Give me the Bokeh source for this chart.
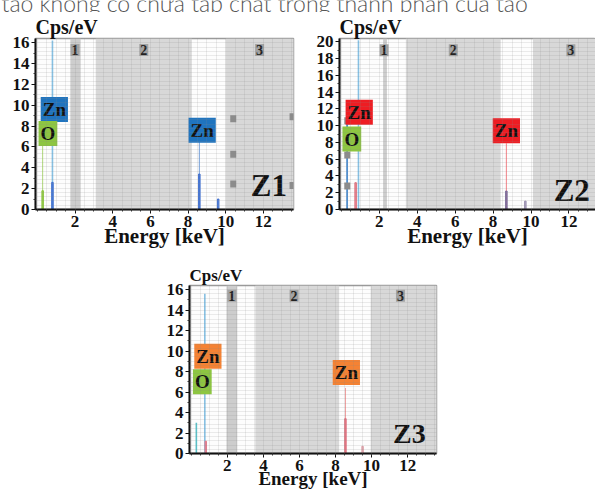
from bokeh.plotting import figure
from bokeh.layouts import column, row
from bokeh.models import Spacer, FixedTicker, Range1d, SingleIntervalTicker
from bokeh.core.properties import value
from bokeh.embed import file_html
from bokeh.resources import INLINE

# ---------------- data ----------------
caption = "tạo không có chứa tạp chất trong thành phần của tạo"

x_ticks = [2, 4, 6, 8, 10, 12]
z1_y_ticks = [0, 2, 4, 6, 8, 10, 12, 14, 16]
z2_y_ticks = [0, 2, 4, 6, 8, 10, 12, 14, 16, 18, 20]
z3_y_ticks = [0, 2, 4, 6, 8, 10, 12, 14, 16]

band_names = ["1", "2", "3"]
z1_band_start = [1.75, 3.1, 10.0]
z1_band_end = [2.3, 8.2, 14.0]
z1_band_label_x = [2.0, 5.65, 11.8]
z2_band_start = [2.2, 3.4, 10.1]
z2_band_end = [2.4, 8.4, 14.0]
z2_band_label_x = [2.25, 5.9, 12.1]
z3_band_start = [1.95, 3.55, 9.95]
z3_band_end = [2.55, 8.2, 14.0]
z3_band_label_x = [2.25, 5.7, 11.6]

# full spectrum (tall light lines): energy [keV], Cps/eV
z1_spec_x = [0.8]
z1_spec_top = [16.2]
z2_spec_x = [0.3, 0.9]
z2_spec_top = [11.2, 20.2]
z3_spec_x = [0.28, 0.75]
z3_spec_top = [3.0, 15.6]

# element marker lines up to the label boxes
z1_mark_x = [0.28, 8.6]
z1_mark_top = [6.2, 6.6]
z2_mark_x = [8.7]
z2_mark_top = [7.9]
z3_mark_x = [8.55]
z3_mark_top = [6.4]

# fitted element peaks
z1_peak_x = [0.28, 0.8, 8.6, 9.6]
z1_peak_h = [1.8, 2.6, 3.4, 1.0]
z2_peak_x = [0.75, 8.7, 9.7]
z2_peak_h = [3.2, 2.2, 1.0]
z3_peak_x = [0.8, 8.55, 9.5]
z3_peak_h = [1.2, 3.4, 0.7]

# element labels
elem_text = ["Zn", "O", "Zn"]
z1_elem_x = [0.9, 0.56, 8.75]
z1_elem_y = [9.6, 7.3, 7.6]
z2_elem_x = [0.94, 0.55, 8.7]
z2_elem_y = [11.6, 8.4, 9.4]
z3_elem_x = [0.92, 0.61, 8.6]
z3_elem_y = [9.5, 7.0, 7.9]

# sample names
sample_names = ["Z1", "Z2", "Z3"]
z1_name_xy = (13.25, 2.3)
z2_name_xy = (13.1, 2.25)
z3_name_xy = (13.0, 2.0)

# grey selection handles seen in the scan
z1_handle_x = [10.4, 10.4, 10.4, 13.55, 13.55]
z1_handle_y = [8.7, 5.3, 2.45, 8.9, 2.3]
z2_handle_x = [0.31, 0.31, 0.31]
z2_handle_y = [10.6, 6.5, 2.8]

# ---------------- styling ----------------
SERIF = "Liberation Serif"
LIGHT_BLUE = "#86c0e3"
O_GREEN = "#8dc641"
BAND = "#d8d8d8"
BAND1 = "#cdcdcd"
TAG = "#a3a3a3"


def panel(w, h, mb, x_end, y_end, y_ticks, title_size, xlab_size,
          band_start, band_end, band_lab_x, band_lab_y,
          spec_x, spec_top, spec_colors, mark_x, mark_top, mark_colors,
          peak_x, peak_h, peak_colors, elem_x, elem_y, elem_colors,
          name, name_xy, name_size, handles=None):
    p = figure(width=w, height=h, x_range=Range1d(-0.1, x_end),
               y_range=Range1d(0, y_end), output_backend="svg",
               toolbar_location=None, background_fill_color="#fdfdfd",
               border_fill_color="white")
    p.min_border_left, p.min_border_right, p.min_border_top, p.min_border_bottom = mb
    p.outline_line_color = "#9a9a9a"
    p.outline_line_width = 1.5

    p.title.text = "Cps/eV"
    p.title.text_font = SERIF
    p.title.text_font_style = "bold"
    p.title.text_font_size = title_size
    p.title.align = "left"
    p.title.standoff = 2
    p.title.text_color = "#111111"

    # bands
    p.quad(left=band_start, right=band_end, bottom=0, top=y_end,
           fill_color=[BAND1, BAND, BAND], line_color=None)

    # grid
    p.xgrid.ticker = SingleIntervalTicker(interval=0.5)
    p.ygrid.ticker = SingleIntervalTicker(interval=y_end / 40)
    for g in (p.xgrid, p.ygrid):
        g.grid_line_color = "#8a8a8a"
        g.grid_line_alpha = 0.16
        g.level = "overlay"

    # band tags
    p.text(x=band_lab_x, y=[band_lab_y] * 3, text=band_names,
           text_font=value(SERIF), text_font_style="bold", text_font_size="14px",
           text_align="center", text_baseline="middle", text_color="#222222",
           background_fill_color=TAG, padding=1)

    # spectrum, markers, peaks
    p.segment(x0=spec_x, y0=[0] * len(spec_x), x1=spec_x, y1=spec_top,
              line_color=spec_colors, line_width=1.6)
    p.segment(x0=mark_x, y0=[0] * len(mark_x), x1=mark_x, y1=mark_top,
              line_color=mark_colors, line_width=1, line_alpha=0.7)
    p.vbar(x=peak_x, top=peak_h, width=0.08, fill_color=peak_colors,
           line_color=peak_colors, fill_alpha=0.8)

    if handles is not None:
        p.rect(x=handles[0], y=handles[1], width=6, height=7,
               width_units="screen", height_units="screen",
               fill_color="#8c8c8c", line_color=None)

    # element labels
    p.text(x=elem_x, y=elem_y, text=elem_text,
           text_font=value(SERIF), text_font_style="bold", text_font_size="19px",
           text_align="center", text_baseline="middle", text_color="#111111",
           background_fill_color=elem_colors, padding=2)

    # sample name
    p.text(x=[name_xy[0]], y=[name_xy[1]], text=[name],
           text_font=value(SERIF), text_font_style="bold", text_font_size=name_size,
           text_align="right", text_baseline="alphabetic", text_color="#111111")

    # axes
    minor_x = [i * 0.5 for i in range(0, 29)]
    p.xaxis.ticker = FixedTicker(ticks=x_ticks, minor_ticks=minor_x)
    p.yaxis.ticker = FixedTicker(ticks=y_ticks,
                                 minor_ticks=[t + 1 for t in y_ticks[:-1]])
    p.xaxis.axis_label = "Energy [keV]"
    p.xaxis.axis_label_text_font = SERIF
    p.xaxis.axis_label_text_font_style = "bold"
    p.xaxis.axis_label_text_font_size = xlab_size
    p.xaxis.axis_label_text_color = "#111111"
    p.xaxis.axis_label_standoff = -6
    for ax in (p.xaxis, p.yaxis):
        ax.axis_line_color = "#111111"
        ax.axis_line_width = 2
        ax.major_tick_in = 0
        ax.major_tick_out = 4
        ax.minor_tick_in = 0
        ax.minor_tick_out = 2
        ax.major_tick_line_color = "#111111"
        ax.minor_tick_line_color = "#333333"
        ax.major_label_text_font = SERIF
        ax.major_label_text_font_style = "bold"
        ax.major_label_text_font_size = "17px"
        ax.major_label_text_color = "#111111"
        ax.major_label_standoff = 2
    return p


# caption strip (only lower part of the line visible)
cap = figure(width=595, height=12, x_range=Range1d(0, 595), y_range=Range1d(0, 12),
             output_backend="svg", toolbar_location=None,
             x_axis_location=None, y_axis_location=None, min_border=0,
             background_fill_color="white", border_fill_color="white")
cap.outline_line_color = None
cap.xgrid.visible = False
cap.ygrid.visible = False
cap.text(x=[1], y=[10], text=[caption], text_font=value("Lato Light, Lato"),
         text_font_size="23px", text_color="#555555", text_baseline="alphabetic")

p1 = panel(300, 238, (35, 7, 23, 41), 13.6, 16.4, z1_y_ticks, "20px", "21px",
           z1_band_start, z1_band_end, z1_band_label_x, 15.3,
           z1_spec_x, z1_spec_top, [LIGHT_BLUE],
           z1_mark_x, z1_mark_top, [O_GREEN, "#3a78c8"],
           z1_peak_x, z1_peak_h, [O_GREEN, "#3f6fd0", "#3f6fd0", "#3f6fd0"],
           z1_elem_x, z1_elem_y, ["#1f74bf", O_GREEN, "#1f74bf"],
           sample_names[0], z1_name_xy, "31px",
           handles=(z1_handle_x, z1_handle_y))

p2 = panel(295, 238, (39, 0, 23, 39), 13.4, 20.4, z2_y_ticks, "20px", "21px",
           z2_band_start, z2_band_end, z2_band_label_x, 19.0,
           z2_spec_x, z2_spec_top, ["#3d82c8", LIGHT_BLUE],
           z2_mark_x, z2_mark_top, ["#ee4d55"],
           z2_peak_x, z2_peak_h, ["#e0707e", "#7a6a9a", "#9a90b0"],
           z2_elem_x, z2_elem_y, ["#ee1d23", O_GREEN, "#ee1d23"],
           sample_names[1], z2_name_xy, "31px",
           handles=(z2_handle_x, z2_handle_y))

p3 = panel(300, 243, (39, 14, 35, 40), 13.6, 16.4, z3_y_ticks, "17px", "19px",
           z3_band_start, z3_band_end, z3_band_label_x, 15.4,
           z3_spec_x, z3_spec_top, ["#5bc0c8", LIGHT_BLUE],
           z3_mark_x, z3_mark_top, ["#e87070"],
           z3_peak_x, z3_peak_h, ["#e07a8a", "#e0707e", "#e0a0a8"],
           z3_elem_x, z3_elem_y, ["#f58233", O_GREEN, "#f58233"],
           sample_names[2], z3_name_xy, "28px")

layout = column(cap, row(p1, p2), row(Spacer(width=150, height=243), p3),
                spacing=0)

open("out.html", "w").write(file_html(layout, INLINE))
